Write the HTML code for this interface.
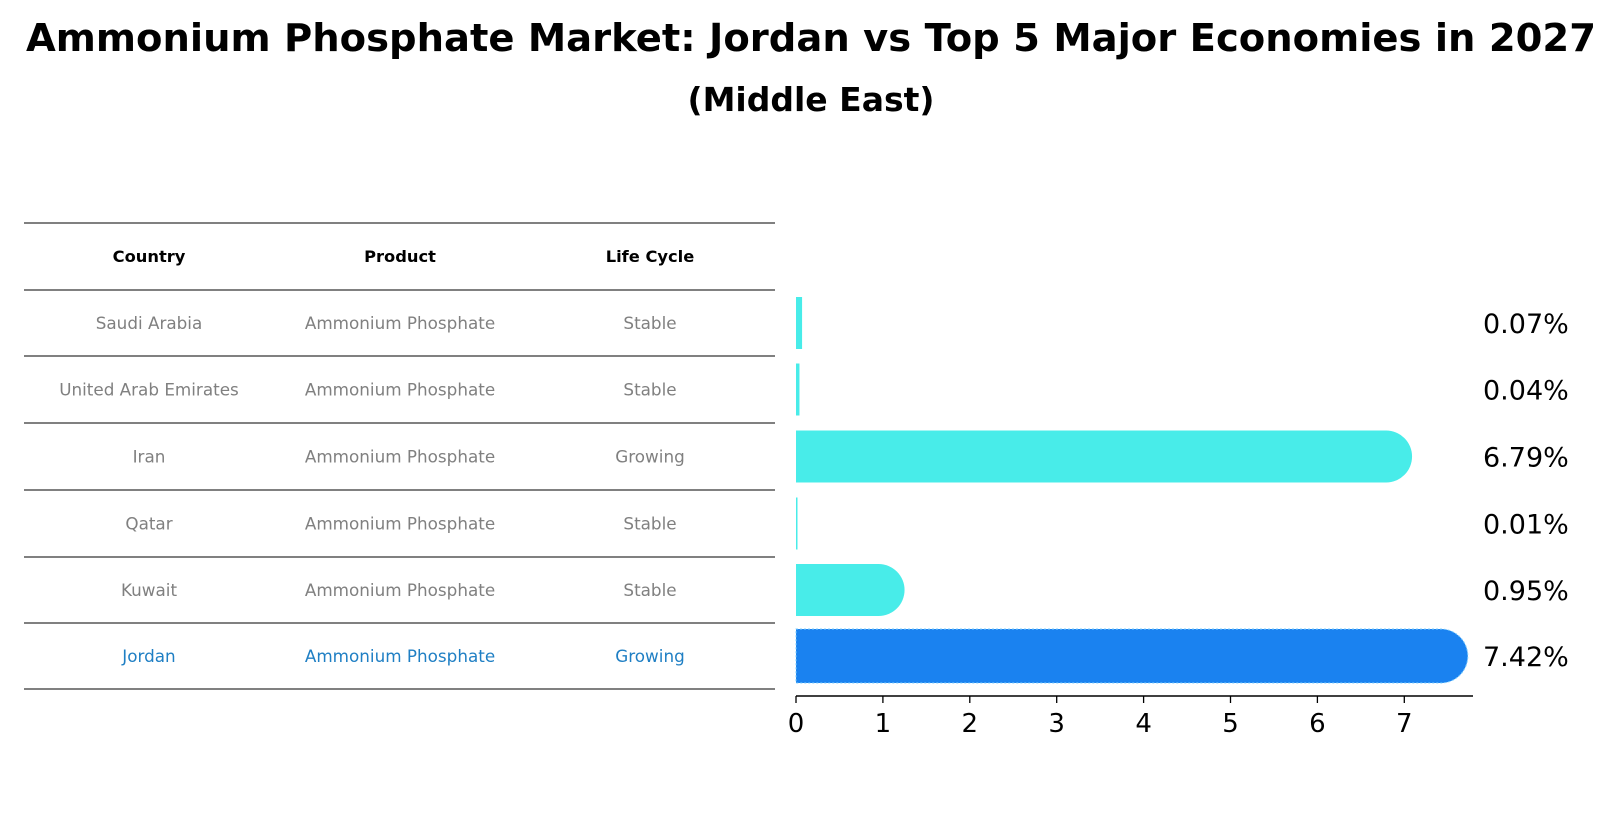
<!DOCTYPE html>
<html><head><meta charset="utf-8"><style>
html,body{margin:0;padding:0;background:#fff;}
svg{display:block;font-family:"DejaVu Sans","Liberation Sans",sans-serif;}
</style></head><body>
<svg id="chart" width="1623" height="823" viewBox="0 0 1623 823" xmlns="http://www.w3.org/2000/svg">
<text x="811" y="51" text-anchor="middle" font-size="38.5" font-weight="bold" fill="#000">Ammonium Phosphate Market: Jordan vs Top 5 Major Economies in 2027</text>
<text x="811" y="111" text-anchor="middle" font-size="33" font-weight="bold" fill="#000">(Middle East)</text>
<g id="table"></g>
<g id="bars"></g>
</svg>
<script>
const countries = ["Saudi Arabia","United Arab Emirates","Iran","Qatar","Kuwait","Jordan"];
const products = ["Ammonium Phosphate","Ammonium Phosphate","Ammonium Phosphate","Ammonium Phosphate","Ammonium Phosphate","Ammonium Phosphate"];
const lifeCycles = ["Stable","Stable","Growing","Stable","Stable","Growing"];
const shares = [0.07,0.04,6.79,0.01,0.95,7.42];
const shareLabels = ["0.07%","0.04%","6.79%","0.01%","0.95%","7.42%"];
const xTicks = [0,1,2,3,4,5,6,7];

const NS="http://www.w3.org/2000/svg";
function mk(tag,attrs,parent){const e=document.createElementNS(NS,tag);for(const k in attrs)e.setAttribute(k,attrs[k]);parent.appendChild(e);return e;}
const table=document.getElementById('table');
const bars=document.getElementById('bars');
const lineYs=[223,290,356,423,490,557,623,689];
const colX=[149,400,650];
lineYs.forEach((y,i)=>{const l=mk('line',{x1:24,x2:775,y1:y,y2:y,stroke:'#000','stroke-width':1},table);

});
["Country","Product","Life Cycle"].forEach((h,i)=>{const t=mk('text',{x:colX[i],y:262,'text-anchor':'middle','font-size':16.3,'font-weight':'bold',fill:'#000'},table);t.textContent=h;

});
const rowY=i=>(lineYs[i+1]+lineYs[i+2])/2;
countries.forEach((c,i)=>{
  const col=i===countries.length-1?'#1f7fc4':'#808080';
  [c,products[i],lifeCycles[i]].forEach((v,j)=>{const t=mk('text',{x:colX[j],y:rowY(i)+6,'text-anchor':'middle','font-size':16.8,fill:col},table);t.textContent=v;
  
  });
});
const x0=796, unit=86.9, axY=696;
const xs=v=>x0+v*unit;
const ax=mk('line',{x1:x0,x2:1473,y1:axY,y2:axY,stroke:'#000','stroke-width':1.5},bars);


xTicks.forEach(v=>{const tk=mk('line',{x1:xs(v),x2:xs(v),y1:axY,y2:axY+7,stroke:'#000','stroke-width':1.3},bars);


const t=mk('text',{x:xs(v),y:axY+36,'text-anchor':'middle','font-size':26,fill:'#000'},bars);t.textContent=v;

});
shares.forEach((v,i)=>{
  const cy=rowY(i), last=i===shares.length-1, h=last?54:52, r=h/2;
  const w=xs(v)-x0, top=cy-h/2;
  const fill=last?'#1a82f0':'#48ece9';
  let d;
  if(w>r){d=`M${x0},${top} H${x0+w} A${r},${r} 0 0 1 ${x0+w},${top+h} H${x0} Z`;}
  else{d=`M${x0},${top} H${x0+Math.max(w,1.5)} V${top+h} H${x0} Z`;}
  const p=mk('path',{d:d,fill:fill},bars);
  if(last){p.setAttribute('stroke','#7fd0ff');p.setAttribute('stroke-dasharray','2 2');p.setAttribute('stroke-width','1');}
  
  
  const t=mk('text',{x:1483,y:cy+10,'font-size':27,fill:'#000'},bars);t.textContent=shareLabels[i];
  
  
});
</script>
</body></html>
